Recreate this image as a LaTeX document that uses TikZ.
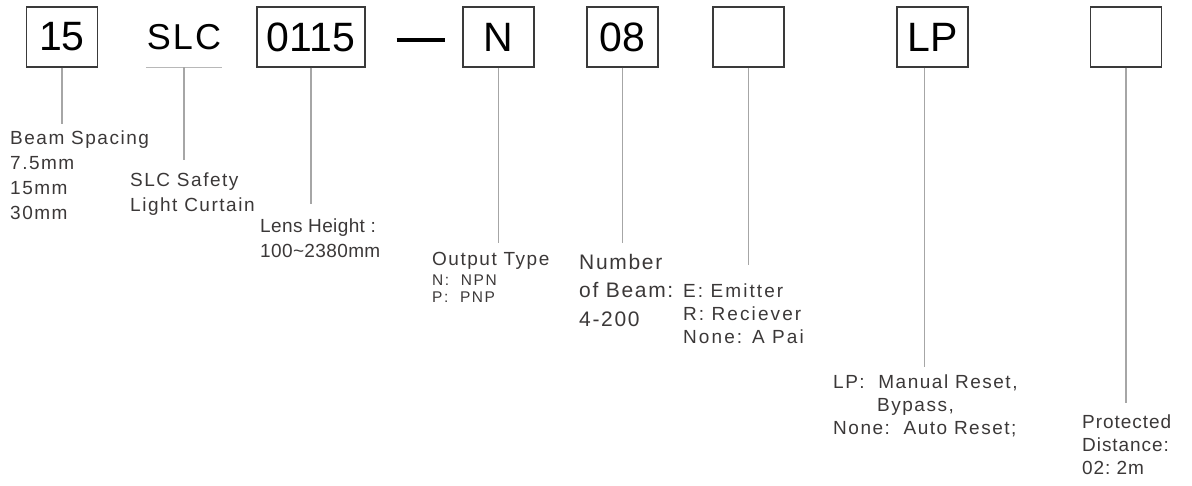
\documentclass[tikz,border=0pt]{standalone}
\usepackage{fontspec}
\setmainfont{Liberation Sans}
\newfontfamily\labfont[LetterSpace=8]{Liberation Sans}
\newfontfamily\slcfont[LetterSpace=6]{Liberation Sans}
\usetikzlibrary{positioning}
\definecolor{boxline}{HTML}{3A3A3A}
\definecolor{leadgray}{HTML}{A6A6A6}
\definecolor{labtext}{HTML}{3B3838}
\tikzset{
  codebox/.style={draw=boxline, line width=1.3pt, minimum width=71pt, minimum height=60pt,
    inner sep=0pt, font=\fontsize{41}{41}\selectfont, text=black},
  lead/.style={draw=leadgray, line width=1.2pt, shorten >=#1},
  lab/.style={anchor=base west, inner sep=0pt, align=left, text=labtext,
    font=\labfont\fontsize{19}{25}\selectfont},
}
\begin{document}
\begin{tikzpicture}[x=1pt, y=-1pt]
    \useasboundingbox (0,0) rectangle (1192,486);
    % code fields
    \node[codebox] (b15) at (62,37) {15};
    \node[minimum width=76pt, minimum height=60pt, inner sep=0pt,
      font=\slcfont\fontsize{36}{36}\selectfont] (sslc) at (184,37) {SLC};
    \node[codebox, minimum width=108pt] (b0115) at (311,37) {0115};
    \node[codebox] (bn) at (498.5,37) {N};
    \node[codebox] (b08) at (622.5,37) {08};
    \node[codebox] (bem) at (748.5,37) {};
    \node[codebox] (blp) at (932.5,37) {LP};
    \node[codebox] (bdist) at (1126,37) {};

    \draw[draw=leadgray!80, line width=1pt] (sslc.south west) -- (sslc.south east);
    \draw[line width=3.5pt] ([xshift=31pt, yshift=-3pt]b0115.east) -- ([xshift=-17pt, yshift=-3pt]bn.west);

    % descriptions (anchored on the last baseline)
    \node[lab] (l15) at (10,220) {Beam Spacing\\7.5mm\\15mm\\30mm};
    \node[lab] (lslc) at (130,212) {SLC Safety\\Light Curtain};
    \node[lab, font=\labfont\fontsize{19}{25}\selectfont\addfontfeatures{LetterSpace=2}] (llens) at (260,258) {Lens Height :\\100\textasciitilde2380mm};
    \node[lab] (lout) at (432,266) {Output Type};
    \node[lab, font=\labfont\fontsize{15.5}{17}\selectfont\addfontfeatures{LetterSpace=10}] (lnp) at (432,303) {N:~~NPN\\P:~~PNP};
    \node[lab, font=\labfont\fontsize{21}{29}\selectfont] (lnum) at (579,327) {Number\\of Beam:\\4-200};
    \node[lab, font=\labfont\fontsize{19}{23}\selectfont\addfontfeatures{LetterSpace=11}] (lem) at (683,344) {E: Emitter\\R: Reciever\\None: A Pai};
    \node[lab, font=\labfont\fontsize{19}{23.5}\selectfont] (llp) at (833,435) {LP:~~Manual Reset,\\\hspace*{44pt}Bypass,\\None:~~Auto Reset;};
    \node[lab, font=\labfont\fontsize{19}{23}\selectfont\addfontfeatures{LetterSpace=5}] (ldist) at (1082,474) {Protected\\Distance:\\02:~2m};

    % leads
    \coordinate (lpfoot) at ([xshift=-8pt]blp.south);
    \draw[lead=7pt] (b15.south) -- (b15.south |- l15.north);
    \draw[lead=13pt] (sslc.south) -- (sslc.south |- lslc.north);
    \draw[lead=15pt] (b0115.south) -- (b0115.south |- llens.north);
    \draw[lead=10pt] (bn.south) -- (bn.south |- lout.north);
    \draw[lead=11pt] (b08.south) -- (b08.south |- lnum.north);
    \draw[lead=19pt] (bem.south) -- (bem.south |- lem.north);
    \draw[lead=7pt] (lpfoot) -- (lpfoot |- llp.north);
    \draw[lead=11pt] (bdist.south) -- (bdist.south |- ldist.north);
\end{tikzpicture}
\end{document}
